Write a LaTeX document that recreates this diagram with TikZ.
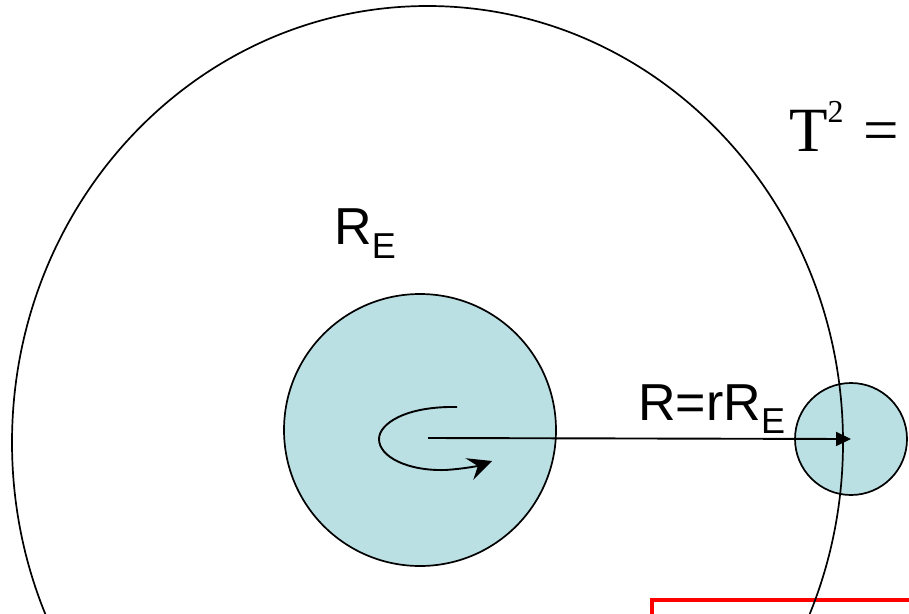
\documentclass[tikz,border=0pt]{standalone}
\usepackage{fontspec}
\setmainfont{Liberation Serif}
\newfontfamily\arialfont{Liberation Sans}
\usetikzlibrary{arrows.meta}
\definecolor{planetfill}{RGB}{187,224,228}
\tikzset{
  planet/.style={circle, draw=black, line width=1.7pt, fill=planetfill, inner sep=0pt},
  orbit/.style={draw=black, line width=1.7pt},
  radiusarrow/.style={line width=1.9pt, -{Triangle[length=15pt,width=14pt]}},
  spinarrow/.style={line width=1.9pt, -{Stealth[length=24pt,width=23pt,inset=9pt]}},
  lbl/.style={inner sep=0pt, font=\arialfont\fontsize{52}{52}\selectfont},
  serifl/.style={inner sep=0pt, font=\fontsize{63}{63}\selectfont},
  redbox/.style={draw=red, line width=3.5pt}
}
\newcommand{\subE}[1]{\raisebox{-#1pt}{\fontsize{36}{36}\selectfont E}}
\begin{document}
\begin{tikzpicture}[x=1pt,y=-1pt]
\useasboundingbox (0,0) rectangle (909,613);
\clip (0,0) rectangle (909,613);
% red box (partly visible)
\draw[redbox] (652,600) rectangle (1000,700);
% planets
\node[planet, minimum size=272pt] (earth) at (420,430) {};
\node[planet, minimum size=112pt] (sat) at (851,439) {};
% orbit
\draw[orbit] (427.5,442.5) ellipse [x radius=415.5pt, y radius=436.5pt];
% radius arrow
\coordinate (hub) at (428,438);
\draw[radiusarrow] (hub) -- (sat.center);
% spin arrow
\coordinate (spinstart) at (457,407);
\coordinate (spinend) at (492,461);
\draw[spinarrow] (spinstart) .. controls (405,406) and (379,424) .. (379,439)
  .. controls (379,457) and (408,471) .. (445,470)
  .. controls (462,469) and (478,466) .. (spinend);
% labels
\node[lbl, anchor=base west] (relabel) at (334,244) {R\subE{14}};
\node[lbl, anchor=base west] (rlabel) at (638,420) {R=rR\subE{13}};
\node[serifl, anchor=base west] (teq) at (789,151) {T\raisebox{29pt}{\fontsize{32}{32}\selectfont 2}\hspace{20pt}=};
\end{tikzpicture}
\end{document}
